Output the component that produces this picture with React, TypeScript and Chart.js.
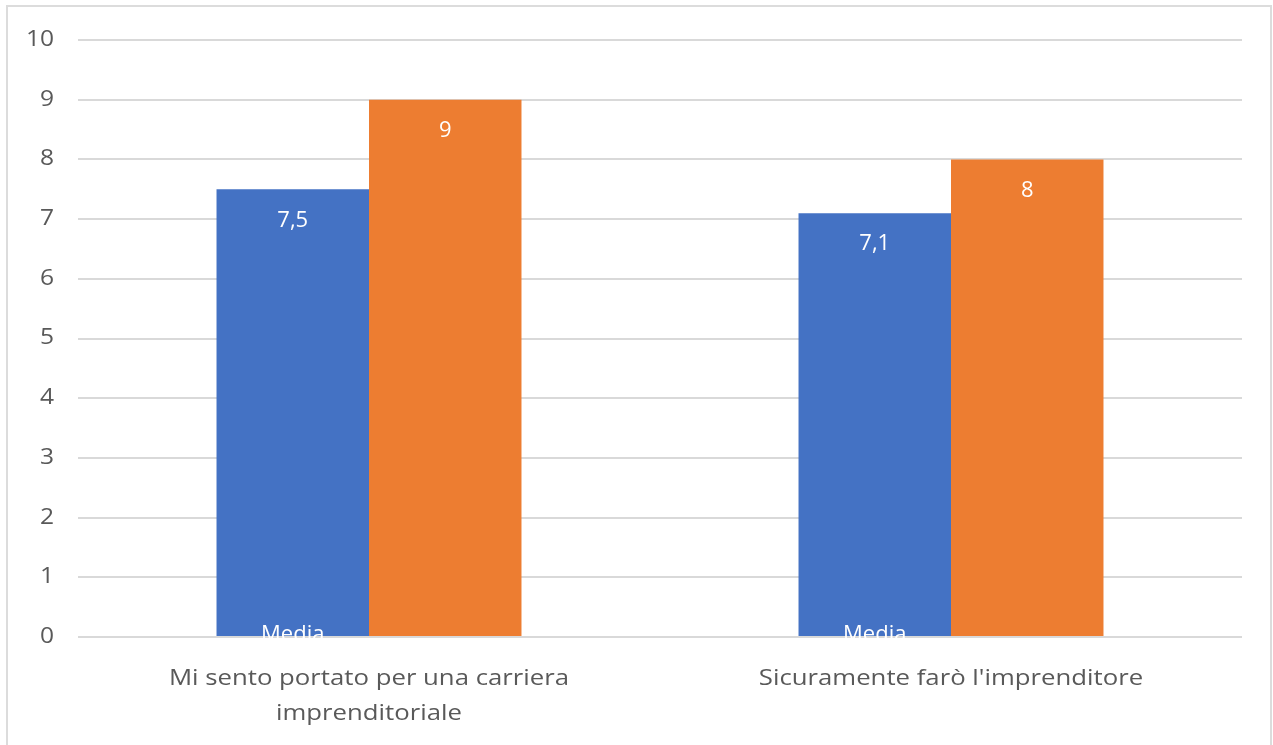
import React, { useEffect, useRef } from "react";
import { Chart, registerables } from "chart.js";

Chart.register(...registerables);

const categories: (string | string[])[] = [
  ["Mi sento portato per una carriera", "imprenditoriale"],
  "Sicuramente farò l'imprenditore",
];
const mediaValues = [7.5, 7.1];
const medianaValues = [9, 8];
const seriesNames = ["Media", "Mediana"];
const yTicks = [0, 1, 2, 3, 4, 5, 6, 7, 8, 9, 10];

const fmt = (v: number) => String(v).replace(".", ",");
const SX = 1.17;

const labelPlugin = {
  id: "barLabels",
  afterDatasetsDraw(chart: any) {
    const ctx = chart.ctx;
    ctx.save();
    chart.data.datasets.forEach((ds: any, di: number) => {
      const meta = chart.getDatasetMeta(di);
      meta.data.forEach((bar: any, i: number) => {
        const v = ds.data[i];
        ctx.fillStyle = "#ffffff";
        ctx.textAlign = "center";
        ctx.textBaseline = "middle";
        ctx.font = "22px 'Open Sans'";
        ctx.fillText(fmt(v), bar.x, bar.y + 31);
        if (di === 0) {
          ctx.font = "22px 'Open Sans'";
          ctx.textBaseline = "alphabetic";
          ctx.fillText(ds.label, bar.x, bar.base + 5);
        }
      });
    });
    ctx.restore();
  },
  afterDraw(chart: any) {
    const ctx = chart.ctx;
    const xs = chart.scales.x;
    const ys = chart.scales.y;
    ctx.save();
    ctx.fillStyle = "#595959";
    ctx.font = "22px 'Open Sans'";
    ctx.textAlign = "center";
    ctx.textBaseline = "middle";
    (chart.data.labels as any[]).forEach((lab, i) => {
      const lines = Array.isArray(lab) ? lab : [lab];
      const x = xs.getPixelForTick(i);
      lines.forEach((ln: string, j: number) => {
        ctx.save();
        ctx.translate(x, xs.top + 42 + j * 35);
        ctx.scale(SX, 1);
        ctx.fillText(ln, 0, 0);
        ctx.restore();
      });
    });
    ctx.font = "21px 'Open Sans'";
    ctx.textAlign = "right";
    yTicks.forEach((v) => {
      ctx.save();
      ctx.translate(54, ys.getPixelForValue(v));
      ctx.scale(SX, 1);
      ctx.fillText(String(v), 0, 0);
      ctx.restore();
    });
    ctx.restore();
  },
};

export default function App() {
  const ref = useRef<HTMLCanvasElement>(null);
  useEffect(() => {
    document.body.style.margin = "0";
    const chart = new Chart(ref.current!, {
      type: "bar",
      data: {
        labels: categories,
        datasets: [
          {
            label: seriesNames[0],
            data: mediaValues,
            backgroundColor: "#4472C4",
            barPercentage: 1,
            categoryPercentage: 0.524,
          },
          {
            label: seriesNames[1],
            data: medianaValues,
            backgroundColor: "#ED7D31",
            barPercentage: 1,
            categoryPercentage: 0.524,
          },
        ],
      },
      options: {
        animation: false,
        responsive: false,
        maintainAspectRatio: false,
        layout: { padding: { left: 0, top: 40, right: 31, bottom: 0 } },
        plugins: { legend: { display: false }, tooltip: { enabled: false } },
        scales: {
          x: {
            grid: { display: false },
            border: { display: false },
            ticks: { display: false },
            afterFit: (s: any) => {
              s.height = 108;
            },
          },
          y: {
            min: 0,
            max: 10,
            afterBuildTicks: (s: any) => {
              s.ticks = yTicks.map((v) => ({ value: v }));
            },
            grid: { color: "#d9d9d9", lineWidth: 2, drawTicks: false },
            border: { display: false },
            ticks: { display: false },
            afterFit: (s: any) => {
              s.width = 78;
            },
          },
        },
      },
      plugins: [labelPlugin],
    });
    return () => chart.destroy();
  }, []);
  return (
    <div style={{ position: "relative", width: 1273, height: 745, overflow: "hidden" }}>
      <div
        style={{
          position: "absolute",
          left: 6,
          top: 5,
          width: 1262,
          height: 760,
          border: "2px solid #dcdcdc",
        }}
      />
      <canvas ref={ref} width={1273} height={745} style={{ position: "absolute", left: 0, top: 0 }} />
    </div>
  );
}
